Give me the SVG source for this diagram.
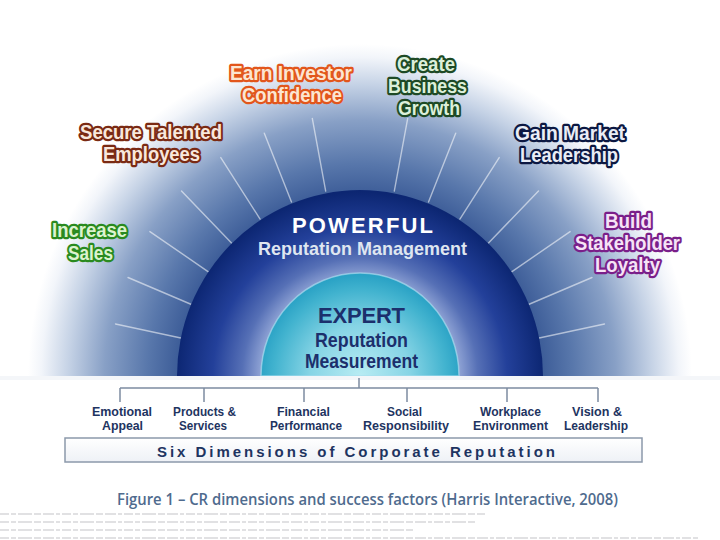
<svg xmlns="http://www.w3.org/2000/svg" width="720" height="540" viewBox="0 0 720 540">
<defs>
<radialGradient id="gOuter" gradientUnits="userSpaceOnUse" cx="360" cy="376" r="332">
<stop offset="0.54" stop-color="#3a5a96"/>
<stop offset="0.64" stop-color="#5877ab"/>
<stop offset="0.77" stop-color="#88a0c6"/>
<stop offset="0.88" stop-color="#c6d3e6"/>
<stop offset="0.96" stop-color="#f2f5fa"/>
<stop offset="1" stop-color="#ffffff"/>
</radialGradient>
<radialGradient id="gRing" gradientUnits="userSpaceOnUse" cx="360" cy="376" r="184">
<stop offset="0.54" stop-color="#8ea2d4"/>
<stop offset="0.64" stop-color="#5670b6"/>
<stop offset="0.8" stop-color="#23409a"/>
<stop offset="1" stop-color="#0c2672"/>
</radialGradient>
<radialGradient id="gTeal" gradientUnits="userSpaceOnUse" cx="360" cy="376" r="101">
<stop offset="0" stop-color="#b8ecf3"/>
<stop offset="0.5" stop-color="#86d4e5"/>
<stop offset="0.85" stop-color="#42b3cf"/>
<stop offset="1" stop-color="#2aa2c5"/>
</radialGradient>
<linearGradient id="gBox" x1="0" y1="0" x2="0" y2="1">
<stop offset="0" stop-color="#ffffff"/>
<stop offset="1" stop-color="#eef1f6"/>
</linearGradient>
<style>
.lab{font-family:"Liberation Sans",Arial,sans-serif;font-weight:bold;font-size:20px;paint-order:stroke;stroke-width:4.5px;stroke-linejoin:round}
.dim{font-family:"Liberation Sans",Arial,sans-serif;font-weight:bold;font-size:12.5px;fill:#1e3461}
.ray{stroke:#ffffff;stroke-opacity:0.55;stroke-width:1.4;stroke-linecap:round}
.br{stroke:#7d8ba0;stroke-width:1.5;fill:none}
.fl{stroke:#bdbdc2;stroke-width:2;stroke-opacity:0.45;stroke-dasharray:9 2 5 2 14 2 7 2 11 2 4 2}
</style>
</defs>
<rect width="720" height="540" fill="#ffffff"/>
<g id="background">
<path d="M28 376 A332 332 0 0 1 692 376 Z" fill="url(#gOuter)"/>
<g id="rays">
<line class="ray" x1="182.0" y1="338.2" x2="115.5" y2="324.0"/>
<line class="ray" x1="191.5" y1="304.5" x2="128.0" y2="277.5"/>
<line class="ray" x1="208.4" y1="271.8" x2="149.9" y2="231.6"/>
<line class="ray" x1="231.5" y1="242.9" x2="181.5" y2="191.1"/>
<line class="ray" x1="260.1" y1="219.1" x2="220.8" y2="157.6"/>
<line class="ray" x1="291.5" y1="202.0" x2="264.3" y2="133.2"/>
<line class="ray" x1="325.7" y1="191.1" x2="312.3" y2="118.4"/>
<line class="ray" x1="538.0" y1="338.2" x2="604.5" y2="324.0"/>
<line class="ray" x1="528.5" y1="304.5" x2="592.0" y2="277.5"/>
<line class="ray" x1="511.6" y1="271.8" x2="570.1" y2="231.6"/>
<line class="ray" x1="488.5" y1="242.9" x2="538.5" y2="191.1"/>
<line class="ray" x1="459.9" y1="219.1" x2="499.2" y2="157.6"/>
<line class="ray" x1="428.5" y1="202.0" x2="455.7" y2="133.2"/>
<line class="ray" x1="394.3" y1="191.1" x2="407.7" y2="118.4"/>
</g>
</g>
<g id="n-powerful">
<path d="M177 376 A183 186 0 0 1 543 376 Z" fill="url(#gRing)"/>
<text x="292" y="233" font-family="Liberation Sans,Arial,sans-serif" font-weight="bold" font-size="22" fill="#ffffff" textLength="141" lengthAdjust="spacing">POWERFUL</text>
<text x="258" y="255" font-family="Liberation Sans,Arial,sans-serif" font-weight="bold" font-size="19" fill="#dfe6f0" textLength="209" lengthAdjust="spacingAndGlyphs">Reputation Management</text>
</g>
<g id="n-expert">
<path d="M261 376 A99 103 0 0 1 459 376 Z" fill="url(#gTeal)" stroke="#a9dcee" stroke-width="1.5" stroke-opacity="0.7"/>
<text x="318" y="323" font-family="Liberation Sans,Arial,sans-serif" font-weight="bold" font-size="22" fill="#1c2f6c" textLength="87" lengthAdjust="spacing">EXPERT</text>
<text x="315" y="347" font-family="Liberation Sans,Arial,sans-serif" font-weight="bold" font-size="20" fill="#1c2f6c" textLength="93" lengthAdjust="spacingAndGlyphs">Reputation</text>
<text x="305" y="368" font-family="Liberation Sans,Arial,sans-serif" font-weight="bold" font-size="20" fill="#1c2f6c" textLength="113" lengthAdjust="spacingAndGlyphs">Measurement</text>
</g>
<rect x="0" y="376" width="720" height="4" fill="#f4f6f9"/>
<g id="n-increase">
<text class="lab" fill="#dcf3cf" stroke="#2a8a20" x="52" y="237" textLength="75" lengthAdjust="spacingAndGlyphs">Increase</text>
<text class="lab" fill="#dcf3cf" stroke="#2a8a20" x="68" y="260" textLength="45" lengthAdjust="spacingAndGlyphs">Sales</text>
</g>
<g id="n-secure">
<text class="lab" fill="#f9e8dc" stroke="#7a2a14" x="80" y="139" textLength="142" lengthAdjust="spacingAndGlyphs">Secure Talented</text>
<text class="lab" fill="#f9e8dc" stroke="#7a2a14" x="103" y="161" textLength="97" lengthAdjust="spacingAndGlyphs">Employees</text>
</g>
<g id="n-earn">
<text class="lab" fill="#fce6d2" stroke="#e2561c" x="230" y="80" textLength="122" lengthAdjust="spacingAndGlyphs">Earn Investor</text>
<text class="lab" fill="#fce6d2" stroke="#e2561c" x="242" y="102" textLength="100" lengthAdjust="spacingAndGlyphs">Confidence</text>
</g>
<g id="n-create">
<text class="lab" fill="#dcf0da" stroke="#1e4a26" x="397" y="71" textLength="58" lengthAdjust="spacingAndGlyphs">Create</text>
<text class="lab" fill="#dcf0da" stroke="#1e4a26" x="388" y="93" textLength="79" lengthAdjust="spacingAndGlyphs">Business</text>
<text class="lab" fill="#dcf0da" stroke="#1e4a26" x="398" y="115" textLength="62" lengthAdjust="spacingAndGlyphs">Growth</text>
</g>
<g id="n-gain">
<text class="lab" fill="#e9edf6" stroke="#0c1842" x="515" y="140" textLength="110" lengthAdjust="spacingAndGlyphs">Gain Market</text>
<text class="lab" fill="#e9edf6" stroke="#0c1842" x="520" y="162" textLength="98" lengthAdjust="spacingAndGlyphs">Leadership</text>
</g>
<g id="n-build">
<text class="lab" fill="#f6e3f6" stroke="#7a1f8a" x="605" y="228" textLength="47" lengthAdjust="spacingAndGlyphs">Build</text>
<text class="lab" fill="#f6e3f6" stroke="#7a1f8a" x="575" y="250" textLength="105" lengthAdjust="spacingAndGlyphs">Stakeholder</text>
<text class="lab" fill="#f6e3f6" stroke="#7a1f8a" x="595" y="272" textLength="65" lengthAdjust="spacingAndGlyphs">Loyalty</text>
</g>
<g id="connectors">
<line class="br" x1="359" y1="378" x2="359" y2="388"/>
<line class="br" x1="120" y1="388" x2="598" y2="388"/>
<line class="br" x1="120" y1="388" x2="120" y2="402"/>
<line class="br" x1="204" y1="388" x2="204" y2="402"/>
<line class="br" x1="304" y1="388" x2="304" y2="402"/>
<line class="br" x1="407" y1="388" x2="407" y2="402"/>
<line class="br" x1="507" y1="388" x2="507" y2="402"/>
<line class="br" x1="598" y1="388" x2="598" y2="402"/>
</g>
<g id="n-emotional">
<text class="dim" x="92" y="416" textLength="60" lengthAdjust="spacingAndGlyphs">Emotional</text>
<text class="dim" x="102" y="430" textLength="41" lengthAdjust="spacingAndGlyphs">Appeal</text>
</g>
<g id="n-products">
<text class="dim" x="173" y="416" textLength="63" lengthAdjust="spacingAndGlyphs">Products &amp;</text>
<text class="dim" x="179" y="430" textLength="48" lengthAdjust="spacingAndGlyphs">Services</text>
</g>
<g id="n-financial">
<text class="dim" x="277" y="416" textLength="53" lengthAdjust="spacingAndGlyphs">Financial</text>
<text class="dim" x="270" y="430" textLength="72" lengthAdjust="spacingAndGlyphs">Performance</text>
</g>
<g id="n-social">
<text class="dim" x="387" y="416" textLength="35" lengthAdjust="spacingAndGlyphs">Social</text>
<text class="dim" x="363" y="430" textLength="86" lengthAdjust="spacingAndGlyphs">Responsibility</text>
</g>
<g id="n-workplace">
<text class="dim" x="480" y="416" textLength="61" lengthAdjust="spacingAndGlyphs">Workplace</text>
<text class="dim" x="473" y="430" textLength="75" lengthAdjust="spacingAndGlyphs">Environment</text>
</g>
<g id="n-vision">
<text class="dim" x="572" y="416" textLength="50" lengthAdjust="spacingAndGlyphs">Vision &amp;</text>
<text class="dim" x="564" y="430" textLength="64" lengthAdjust="spacingAndGlyphs">Leadership</text>
</g>
<g id="n-six">
<rect x="65" y="438" width="577" height="24" fill="url(#gBox)" stroke="#8c99ab" stroke-width="1.5"/>
<text x="157" y="457" font-family="Liberation Sans,Arial,sans-serif" font-weight="bold" font-size="15" fill="#1e3461" textLength="398" lengthAdjust="spacing">Six Dimensions of Corporate Reputation</text>
</g>
<g id="caption">
<text x="117" y="505" font-family="Open Sans,Liberation Sans,sans-serif" font-weight="600" font-size="17" fill="#4f6b8e" textLength="501" lengthAdjust="spacingAndGlyphs">Figure 1 – CR dimensions and success factors (Harris Interactive, 2008)</text>
</g>
<g id="faint-lines">
<line class="fl" x1="0" y1="514" x2="485" y2="514"/>
<line class="fl" x1="0" y1="522" x2="477" y2="522"/>
<line class="fl" x1="0" y1="530" x2="415" y2="530"/>
<line class="fl" x1="0" y1="538" x2="700" y2="538"/>
</g>
</svg>
